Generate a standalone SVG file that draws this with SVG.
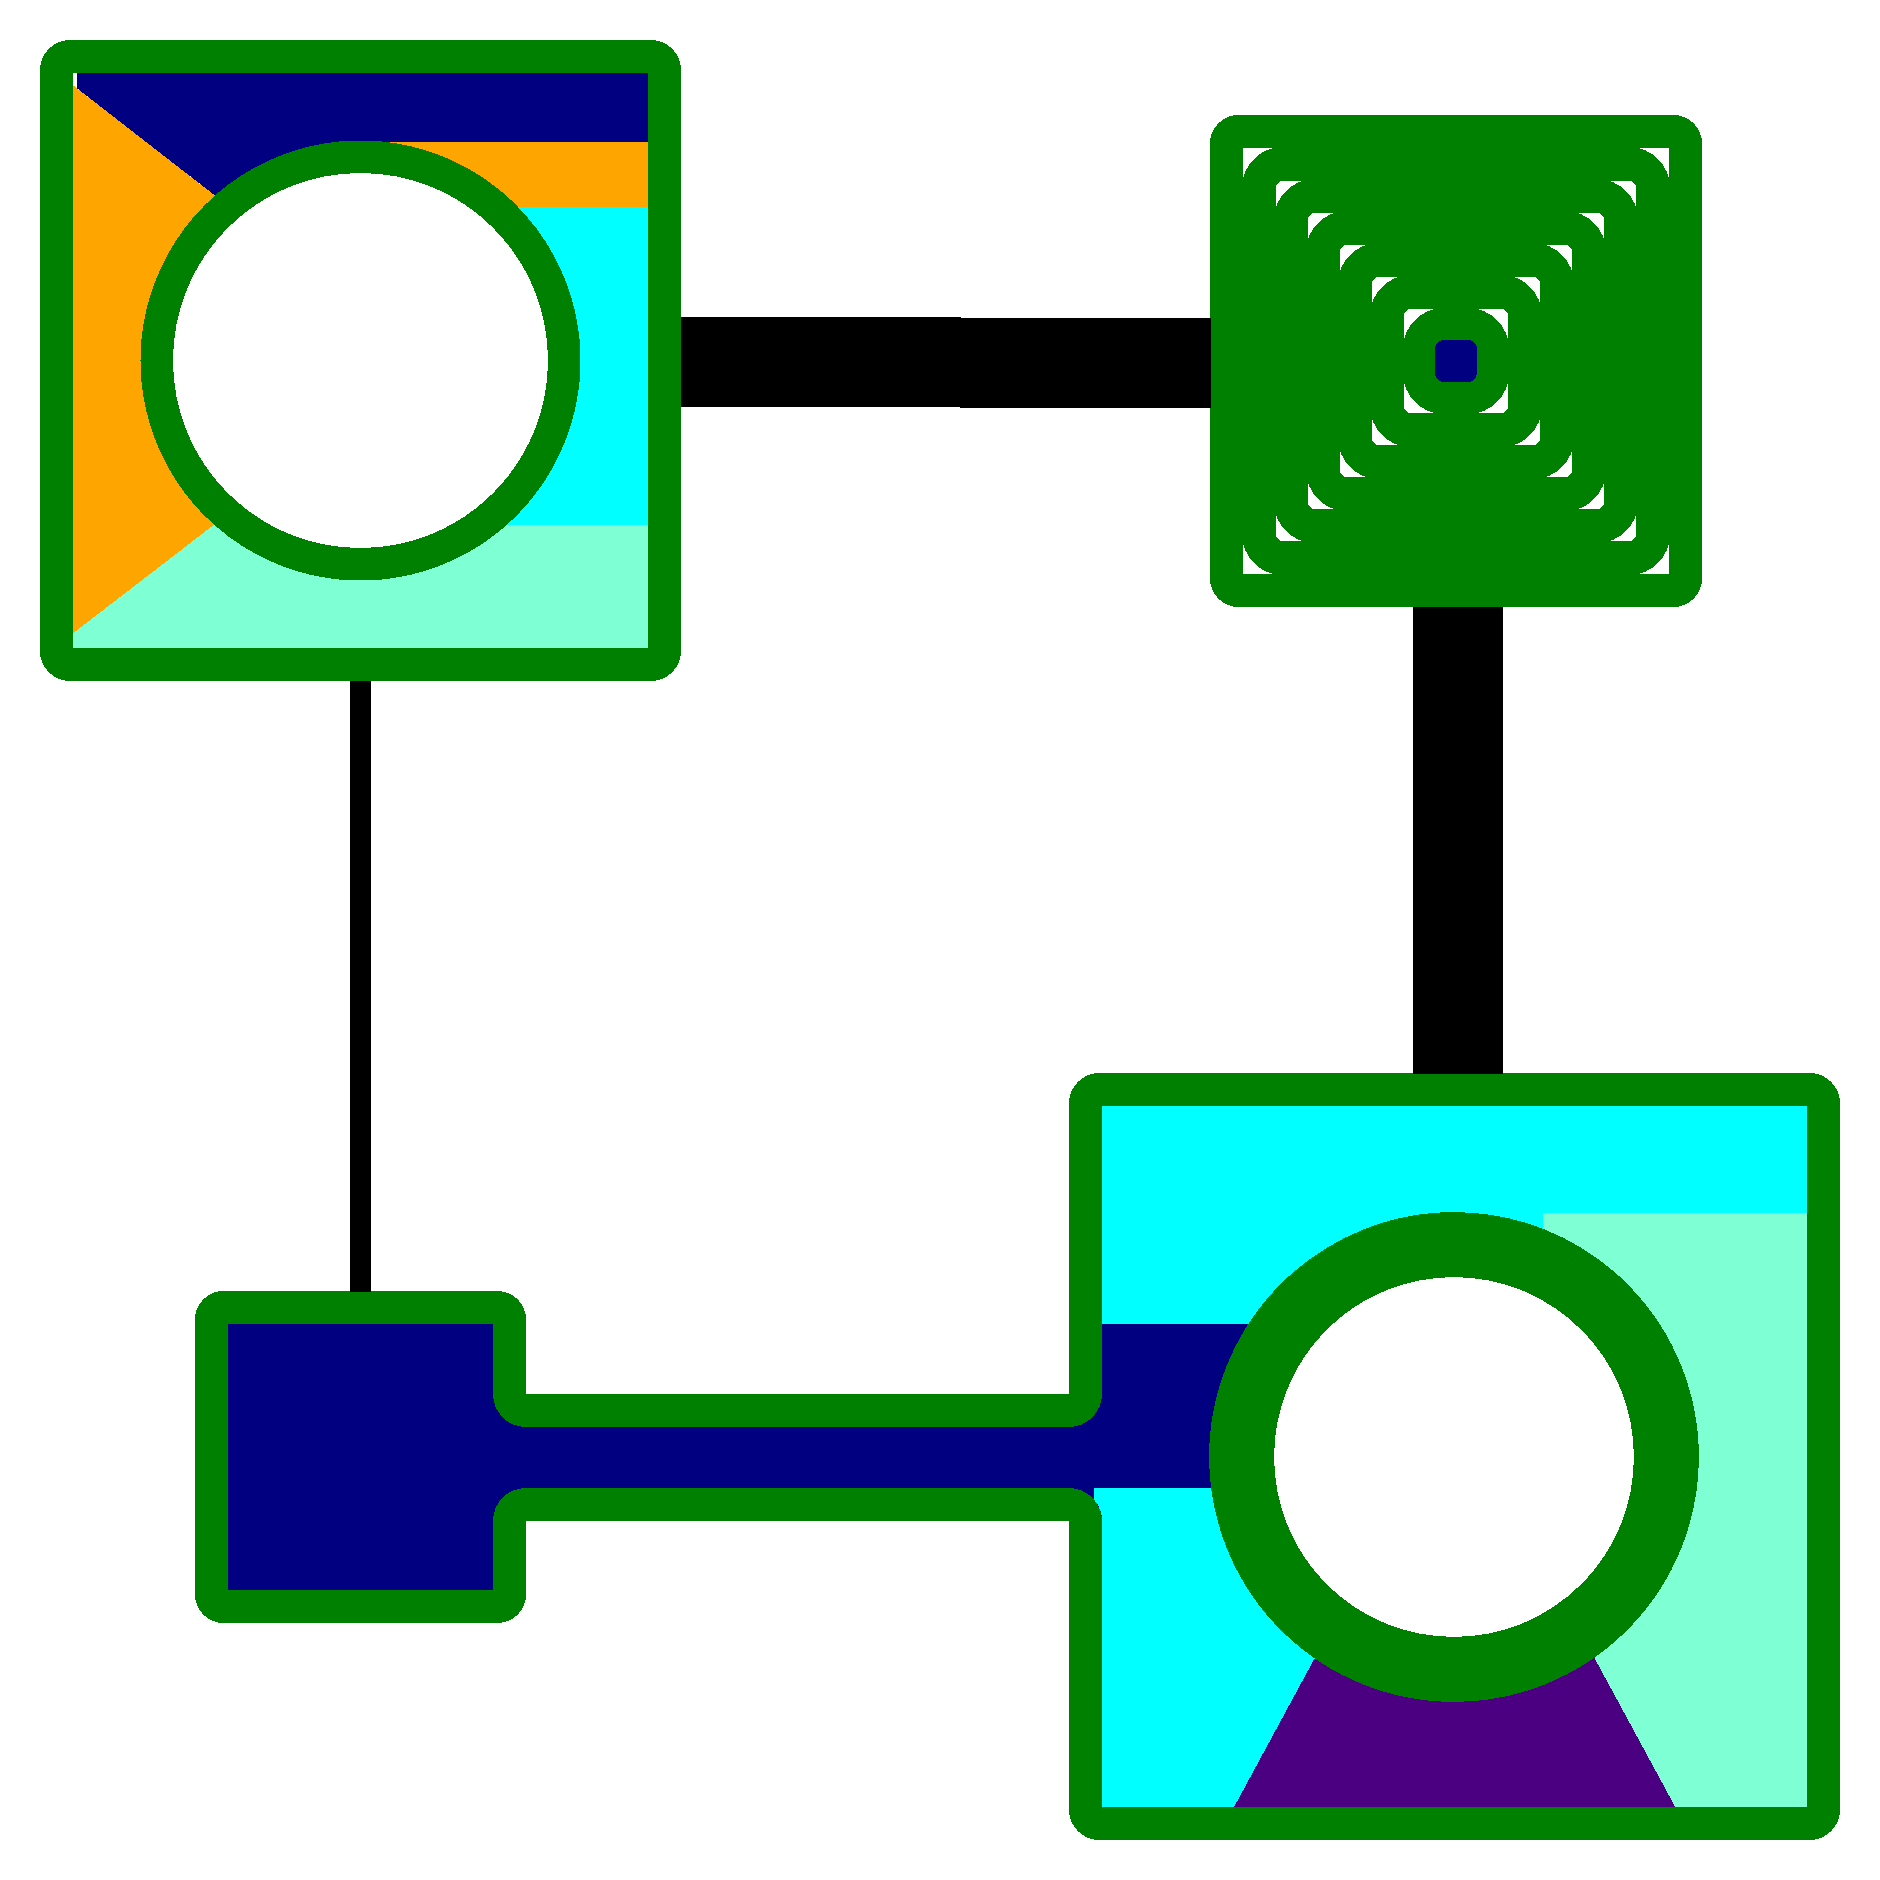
<svg xmlns="http://www.w3.org/2000/svg" width="1880" height="1880" viewBox="0 0 1880 1880" shape-rendering="crispEdges">
<style>
.border{fill:none;stroke:#008000;stroke-width:33}
.ring{fill:#ffffff;stroke:#008000}
.nest{fill:#ffffff;stroke:#008000;stroke-width:34}
.edge{stroke:#000000;stroke-linecap:butt}
.navy{fill:#000080}
.orange{fill:#FFA500}
.cyan{fill:#00FFFF}
.aqua{fill:#7FFFD4}
.indigo{fill:#4B0082}
.green{fill:#008000}
</style>
<rect width="1880" height="1880" fill="#ffffff"/>
<g id="node1">
<rect x="56.5" y="56.5" width="608" height="608" fill="#ffffff"/>
<rect class="cyan" x="360.5" y="206" width="288" height="319"/>
<rect class="orange" x="360.5" y="142" width="288" height="64.5"/>
<polygon class="navy" points="76.7,72.7 648.5,72.7 648.5,142 360.5,142 360.5,360.5 214.3,195 76.7,88"/>
<polygon class="orange" points="72.7,85 214.3,195 360.5,360.5 214.3,524.5 72.7,633.5"/>
<polygon class="aqua" points="72.7,633.5 214.3,524.5 648.5,524.5 648.5,648.5 72.7,648.5"/>
<circle class="ring" cx="360.5" cy="360.5" r="203.75" stroke-width="32.5"/>
<rect class="border" x="56.5" y="56.5" width="608" height="608" rx="13.5"/>
</g>
<g id="node2">
<rect x="1226.5" y="131.5" width="459" height="459" rx="12" fill="#ffffff" stroke="#008000" stroke-width="33"/>
<rect class="nest" x="1259" y="164" width="394" height="394" rx="24"/>
<rect class="nest" x="1291" y="196" width="330" height="330" rx="24"/>
<rect class="nest" x="1323" y="228" width="266" height="266" rx="24"/>
<rect class="nest" x="1355" y="260" width="202" height="202" rx="24"/>
<rect class="nest" x="1387" y="292" width="138" height="138" rx="24"/>
<rect class="nest" x="1419" y="324" width="74" height="74" rx="25" style="fill:#000080;stroke-width:32"/>
</g>
<g id="node4">
<rect x="211.5" y="1307.5" width="298" height="299" rx="12" fill="#000080" stroke="#008000" stroke-width="33"/>
</g>
<g id="node3">
<rect class="cyan" x="1101" y="1105" width="707" height="703"/>
<rect class="navy" x="1101" y="1324" width="353" height="164"/>
<polygon class="aqua" points="1543,1213 1808,1213 1808,1808 1675.8,1808 1454.6,1400 1543,1400"/>
<polygon class="indigo" points="1454.6,1400 1675.8,1808 1233.5,1808"/>
<circle class="ring" cx="1454" cy="1457" r="212.4" stroke-width="65"/>
<rect class="border" x="1085.5" y="1089.5" width="738" height="734" rx="14"/>
</g>
<g id="connectors">
<line class="edge" x1="681" y1="361.8" x2="961" y2="361.8" stroke-width="90"/>
<line class="edge" x1="960" y1="362.8" x2="1210.5" y2="362.8" stroke-width="90"/>
<line class="edge" x1="1457.9" y1="606.5" x2="1457.9" y2="1073.5" stroke-width="90"/>
<line class="edge" x1="360.5" y1="681" x2="360.5" y2="1291.5" stroke-width="21.5"/>
<g id="channel">
<rect class="navy" x="493" y="1394" width="609" height="127"/>
<path class="green" d="M493,1394 H1102 A33,33 0 0 1 1069,1427 H526 A33,33 0 0 1 493,1394 Z"/>
<path class="green" d="M493,1521 H1102 A33,33 0 0 0 1069,1488 H526 A33,33 0 0 0 493,1521 Z"/>
<path class="cyan" d="M1094,1488 H1102 V1521 A33,33 0 0 0 1094,1499.5 Z"/>
</g>
</g>
</svg>
